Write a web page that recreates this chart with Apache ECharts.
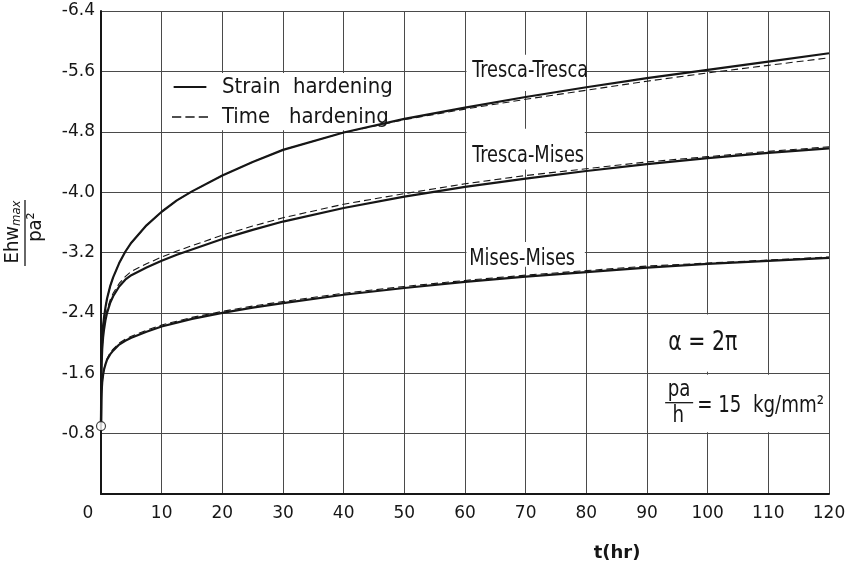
<!DOCTYPE html>
<html><head><meta charset="utf-8">
<script src="https://cdn.jsdelivr.net/npm/echarts@6/dist/echarts.min.js"></script>
<style>html,body{margin:0;padding:0;background:#fff}#c{width:846px;height:570px}</style>
</head><body><div id="c"></div>
<script>
// ---------------- data ----------------
const tHours = [0, 0.05, 0.1, 0.2, 0.35, 0.5, 0.75, 1, 1.5, 2, 3, 4, 5, 7.5, 10, 12.5, 15, 20, 25, 30, 40, 50, 60, 70, 80, 90, 100, 110, 120];

const trescaTrescaStrain = [-0.90, -1.76, -1.90, -2.07, -2.23, -2.34, -2.48, -2.59, -2.75, -2.87, -3.06, -3.21, -3.33, -3.56, -3.74, -3.89, -4.01, -4.22, -4.40, -4.56, -4.79, -4.97, -5.12, -5.26, -5.39, -5.51, -5.62, -5.73, -5.84];
const trescaTrescaTime   = [-0.90, -1.76, -1.90, -2.07, -2.23, -2.34, -2.48, -2.59, -2.75, -2.87, -3.06, -3.21, -3.33, -3.56, -3.74, -3.89, -4.01, -4.22, -4.40, -4.56, -4.79, -4.96, -5.10, -5.23, -5.35, -5.47, -5.58, -5.68, -5.78];

const trescaMisesStrain  = [-0.90, -1.55, -1.72, -1.92, -2.08, -2.18, -2.31, -2.40, -2.53, -2.62, -2.75, -2.84, -2.90, -3.00, -3.09, -3.17, -3.24, -3.38, -3.50, -3.61, -3.79, -3.94, -4.07, -4.18, -4.28, -4.37, -4.45, -4.52, -4.58];
const trescaMisesTime    = [-0.90, -1.57, -1.75, -1.95, -2.11, -2.22, -2.35, -2.44, -2.57, -2.66, -2.79, -2.88, -2.95, -3.05, -3.14, -3.22, -3.29, -3.43, -3.55, -3.66, -3.84, -3.98, -4.11, -4.22, -4.31, -4.40, -4.47, -4.54, -4.60];

const misesMisesStrain   = [-0.90, -1.25, -1.36, -1.48, -1.58, -1.65, -1.72, -1.78, -1.85, -1.90, -1.98, -2.03, -2.07, -2.15, -2.22, -2.27, -2.32, -2.40, -2.47, -2.53, -2.64, -2.73, -2.81, -2.88, -2.94, -3.00, -3.05, -3.09, -3.13];
const misesMisesTime     = [-0.90, -1.26, -1.37, -1.49, -1.59, -1.66, -1.73, -1.79, -1.87, -1.92, -2.00, -2.05, -2.09, -2.17, -2.24, -2.29, -2.34, -2.42, -2.49, -2.55, -2.66, -2.75, -2.83, -2.90, -2.96, -3.02, -3.06, -3.10, -3.14];

const startPoint = [[0, -0.90]];

const legendNames = ['Strain hardening', 'Time hardening'];
const legendTexts = ['Strain  hardening', 'Time   hardening'];
const curveLabels = ['Tresca-Tresca', 'Tresca-Mises', 'Mises-Mises'];
const xTickStep = 10, yTickStep = 0.8;

// ---------------- helpers ----------------
function pairs(xs, ys) { return xs.map((x, i) => [x, ys[i]]); }
const mctx = document.createElement('canvas').getContext('2d');
function hasFont(name) {
  const s = 'Tresca-Tresca hardening 0123';
  mctx.font = '40px monospace'; const w0 = mctx.measureText(s).width;
  mctx.font = `40px '${name}', monospace`; return mctx.measureText(s).width !== w0;
}
const LABEL_FONT = hasFont('Liberation Sans Narrow') ? "'Liberation Sans Narrow'" :
                   (hasFont('DejaVu Sans Condensed') ? "'DejaVu Sans Condensed'" : "'Liberation Sans'");
function fitSize(text, family, target) {
  mctx.font = `100px ${family}`; return 100 * target / mctx.measureText(text).width;
}
const LBL_SIZE = Math.min(22, fitSize('Tresca-Tresca', LABEL_FONT, 116));
const LEG_SIZE = Math.min(22, fitSize(legendTexts[0], LABEL_FONT, 167));
const TALL = 1.15;

const INK = '#161616';
const GRIDC = '#4a4a4a';
const TICK_FONT = 'DejaVu Sans';

const chart = echarts.init(document.getElementById('c'), null, { renderer: 'canvas' });

function solid(name, ys) {
  return { name: name, type: 'line', data: pairs(tHours, ys), showSymbol: false, symbol: 'none',
    smooth: false, lineStyle: { color: INK, width: 2.2, type: 'solid' },
    itemStyle: { color: INK }, z: 3, silent: true };
}
function dashed(name, ys) {
  return { name: name, type: 'line', data: pairs(tHours, ys), showSymbol: false, symbol: 'none',
    smooth: false, lineStyle: { color: INK, width: 1.1, type: [7, 4] },
    itemStyle: { color: INK }, z: 2, silent: true };
}

const option = {
  animation: false,
  backgroundColor: '#fff',
  grid: { left: 101, right: 17, top: 11, bottom: 76, containLabel: false, outerBoundsMode: 'none' },
  xAxis: {
    type: 'value', min: 0, max: 120, interval: xTickStep,
    axisLine: { show: true, onZero: false, lineStyle: { color: INK, width: 2 } },
    axisTick: { show: false },
    splitLine: { show: true, lineStyle: { color: GRIDC, width: 1 } },
    axisLabel: { color: INK, fontFamily: TICK_FONT, fontSize: 17, margin: 11,
      formatter: v => (v === 0 ? '{z|0}' : String(v)),
      rich: { z: { color: INK, fontFamily: TICK_FONT, fontSize: 17, padding: [0, 26, 0, 0] } } }
  },
  yAxis: {
    type: 'value', inverse: true, min: -6.4, max: 0, interval: yTickStep,
    axisLine: { show: true, onZero: false, lineStyle: { color: INK, width: 2 } },
    axisTick: { show: false },
    splitLine: { show: true, lineStyle: { color: GRIDC, width: 1 } },
    axisLabel: { color: INK, fontFamily: TICK_FONT, fontSize: 17, margin: 6,
      formatter: v => (Math.abs(v) < 1e-9 ? '' : v.toFixed(1)) }
  },
  legend: {
    show: true, orient: 'vertical', left: 167, top: 71, z: 3, selectedMode: false,
    data: [
      { name: legendNames[0], icon: 'path://M0,0h36v2.2h-36z' },
      { name: legendNames[1], icon: 'path://M0,0h9v1.3h-9zM13,0h9v1.3h-9zM26,0h9v1.3h-9z' }
    ],
    formatter: n => legendTexts[legendNames.indexOf(n)],
    itemWidth: 36, itemHeight: 2, itemGap: 8, padding: 5,
    itemStyle: { color: INK, borderWidth: 0 },
    textStyle: { color: INK, fontFamily: LABEL_FONT, fontSize: LEG_SIZE + 0.5, lineHeight: 22, padding: [0, 0, 0, 9] }
  },
  series: [
    solid(legendNames[0], trescaTrescaStrain),
    dashed(legendNames[1], trescaTrescaTime),
    solid(legendNames[0], trescaMisesStrain),
    dashed(legendNames[1], trescaMisesTime),
    solid(legendNames[0], misesMisesStrain),
    dashed(legendNames[1], misesMisesTime),
    { name: 'start', type: 'scatter', data: startPoint, symbol: 'circle', symbolSize: 9,
      itemStyle: { color: '#fff', borderColor: INK, borderWidth: 1.2 }, z: 6, silent: true }
  ]
};
chart.setOption(option);

// ---------------- annotations (positioned in data coordinates) ----------------
function px(t, v) { return chart.convertToPixel({ gridIndex: 0 }, [t, v]); }
// white cells that blank the grid behind texts: [t0, t1, v0, v1]
const maskCells = [[10, 50, -5.6, -4.8], [60, 80, -5.84, -5.32], [60, 80, -4.86, -4.28],
                   [60, 80, -3.36, -2.99], [90, 110, -2.4, -1.6], [90, 120, -1.6, -0.8]];
const labelAnchors = [[61.2, -5.61], [61.2, -4.48], [60.7, -3.11]];

const g = [];
maskCells.forEach(c => {
  const a = px(c[0], c[2]), b = px(c[1], c[3]);
  const x0 = Math.min(a[0], b[0]) + 1.5, x1 = Math.max(a[0], b[0]) - 1.5;
  const y0 = Math.min(a[1], b[1]) + 1.5, y1 = Math.max(a[1], b[1]) - 1.5;
  g.push({ type: 'rect', shape: { x: x0, y: y0, width: x1 - x0, height: y1 - y0 },
    style: { fill: '#fff' }, z: 1, silent: true });
});
curveLabels.forEach((s, i) => {
  const p = px(labelAnchors[i][0], labelAnchors[i][1]);
  g.push({ type: 'text', x: p[0], y: p[1], scaleY: TALL, z: 5, silent: true,
    style: { text: s, fill: INK, font: `${LBL_SIZE}px ${LABEL_FONT}`, align: 'left', verticalAlign: 'middle' } });
});
// alpha = 2 pi
const pa = px(93.5, -2.0);
g.push({ type: 'text', x: pa[0], y: pa[1], scaleY: TALL, z: 5, silent: true,
  style: { text: 'α = 2π', fill: INK, font: `${LBL_SIZE + 3}px ${LABEL_FONT}`, align: 'left', verticalAlign: 'middle' } });
// pa/h = 15 kg/mm2
const pf = px(95.3, -1.21);
const fs = `${LBL_SIZE + 0.5}px ${LABEL_FONT}`;
g.push({ type: 'text', x: pf[0], y: pf[1] - 1, scaleY: TALL, z: 5, silent: true,
  style: { text: 'pa', fill: INK, font: fs, align: 'center', verticalAlign: 'bottom' } });
g.push({ type: 'line', x: pf[0], y: pf[1], z: 5, silent: true,
  shape: { x1: -14, y1: 0, x2: 14, y2: 0 }, style: { stroke: INK, lineWidth: 1.3 } });
g.push({ type: 'text', x: pf[0] - 1, y: pf[1] + 2, scaleY: TALL, z: 5, silent: true,
  style: { text: 'h', fill: INK, font: fs, align: 'center', verticalAlign: 'top' } });
g.push({ type: 'text', x: pf[0] + 18, y: pf[1] + 3, scaleY: TALL, z: 5, silent: true,
  style: { text: '= 15  kg/mm²', fill: INK, font: fs, align: 'left', verticalAlign: 'middle' } });
// x axis name
g.push({ type: 'text', x: 617, y: 553, z: 5, silent: true,
  style: { text: 't(hr)', fill: INK, font: `bold 18px ${TICK_FONT}`, align: 'center', verticalAlign: 'middle' } });
// y axis name: E h w_max / p a^2, rotated
g.push({ type: 'group', x: 25, y: 233, rotation: Math.PI / 2, z: 5, silent: true, children: [
  { type: 'text', x: 7, y: -2, z: 5, style: { text: 'Ehw', fill: INK, font: `20px ${LABEL_FONT}`, align: 'right', verticalAlign: 'bottom' } },
  { type: 'text', x: 7, y: -2, z: 5, style: { text: 'max', fill: INK, font: `italic 13px ${LABEL_FONT}`, align: 'left', verticalAlign: 'bottom' } },
  { type: 'line', z: 5, shape: { x1: -33, y1: 0, x2: 33, y2: 0 }, style: { stroke: INK, lineWidth: 1.3 } },
  { type: 'text', x: 6, y: 1, z: 5, style: { text: 'pa²', fill: INK, font: `20px ${LABEL_FONT}`, align: 'center', verticalAlign: 'top' } }
]});
chart.setOption({ graphic: { elements: g } });
</script>
</body></html>
